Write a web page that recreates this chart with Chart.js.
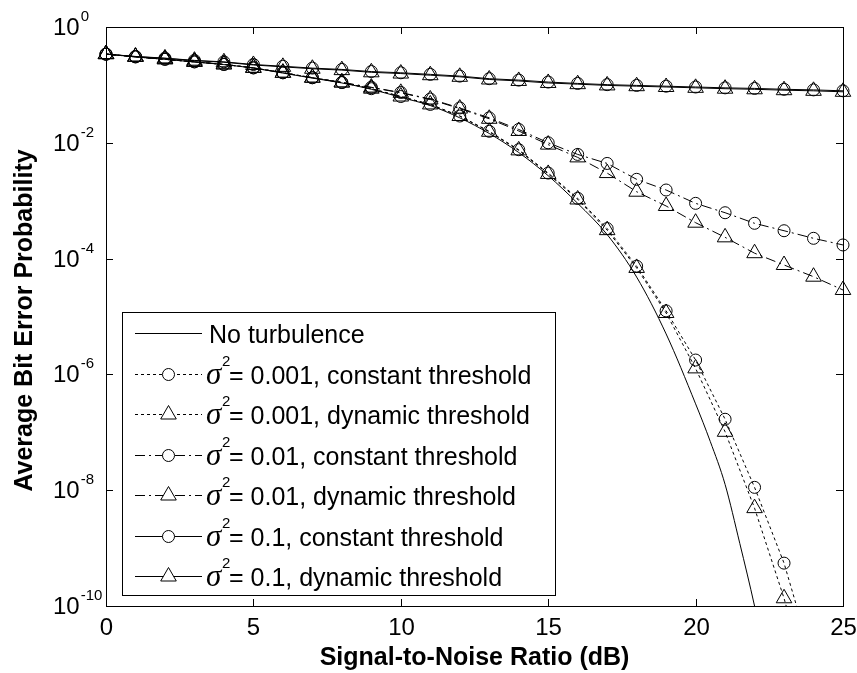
<!DOCTYPE html>
<html>
<head>
<meta charset="utf-8">
<title>Average Bit Error Probability</title>
<style>
html, body { margin: 0; padding: 0; background: #fff; }
canvas { display: block; }
</style>
</head>
<body>
<canvas id="myChart" width="857" height="673"></canvas>
<script src="https://cdn.jsdelivr.net/npm/chart.js"></script>
<script>
// values
var snr = [0, 1, 2, 3, 4, 5, 6, 7, 8, 9, 10, 11, 12, 13, 14, 15, 16, 17, 18, 19, 20, 21, 22, 23, 24, 25];

var noTurbSnr = [0, 1, 2, 3, 4, 5, 6, 7, 8, 9, 10, 11, 12, 13, 14, 15, 16, 17, 18, 19, 20, 20.5, 21, 21.5, 22, 22.5];
var noTurb = [0.34, 0.305, 0.276, 0.249, 0.224, 0.195, 0.16, 0.131, 0.108, 0.084, 0.061, 0.044, 0.027, 0.0145, 0.0068, 0.0027,
              9.0e-4, 2.6e-4, 4.8e-5, 5.0e-6, 3.1e-7, 6.9e-8, 1.26e-8, 1.2e-9, 1.0e-10, 6e-12];

var const001 = [0.34, 0.305, 0.277, 0.25, 0.226, 0.197, 0.162, 0.133, 0.110, 0.086, 0.063, 0.046, 0.029, 0.0158, 0.0076, 0.0030,
                1.1e-3, 3.3e-4, 7.4e-5, 1.25e-5, 1.77e-6, 1.68e-7, 1.12e-8, 5.5e-10, 1.0e-11];
var dyn001 = [0.34, 0.305, 0.277, 0.25, 0.226, 0.197, 0.162, 0.133, 0.110, 0.086, 0.063, 0.046, 0.029, 0.0155, 0.0074, 0.0029,
              1.05e-3, 3.1e-4, 6.9e-5, 1.15e-5, 1.27e-6, 1.02e-7, 4.9e-9, 1.36e-10, 2.0e-12];

var const01 = [0.34, 0.305, 0.277, 0.25, 0.226, 0.197, 0.162, 0.133, 0.110, 0.091, 0.074, 0.057, 0.040, 0.027, 0.017, 0.0100,
               6.3e-3, 4.4e-3, 2.34e-3, 1.53e-3, 9.0e-4, 6.2e-4, 4.07e-4, 3.03e-4, 2.24e-4, 1.72e-4];
var dyn01 = [0.34, 0.305, 0.277, 0.25, 0.226, 0.197, 0.162, 0.133, 0.110, 0.090, 0.073, 0.056, 0.039, 0.026, 0.016, 0.0093,
             5.6e-3, 3.0e-3, 1.43e-3, 8.1e-4, 4.17e-4, 2.33e-4, 1.24e-4, 7.75e-5, 4.87e-5, 2.87e-5];

var const1 = [0.34, 0.31, 0.29, 0.265, 0.25, 0.225, 0.21, 0.195, 0.185, 0.17, 0.162, 0.152, 0.142, 0.128, 0.121, 0.112,
              0.106, 0.101, 0.098, 0.095, 0.092, 0.089, 0.087, 0.084, 0.082, 0.079];
var dyn1 = [0.34, 0.308, 0.287, 0.262, 0.246, 0.221, 0.205, 0.19, 0.18, 0.165, 0.157, 0.147, 0.138, 0.124, 0.117, 0.108,
            0.103, 0.098, 0.095, 0.092, 0.089, 0.086, 0.084, 0.081, 0.079, 0.076];

var xTicks = [0, 5, 10, 15, 20, 25];
var yTickExp = [0, -2, -4, -6, -8, -10];

var legendSigma = ["", "0.001", "0.001", "0.01", "0.01", "0.1", "0.1"];
var legendText = ["No turbulence", ", constant threshold", ", dynamic threshold", ", constant threshold",
                  ", dynamic threshold", ", constant threshold", ", dynamic threshold"];

var DOTTED = [3, 3];
var DASHDOT = [10, 4, 2, 4];

function pairs(xs, ys) {
    return ys.map(function (v, i) { return { x: xs[i], y: v }; });
}

function series(data, dash, marker, r) {
    return {
        data: data,
        borderColor: "#000",
        borderWidth: 1,
        borderDash: dash,
        backgroundColor: "rgba(0,0,0,0)",
        pointStyle: marker,
        pointRadius: r,
        pointBorderWidth: 1,
        pointBorderColor: "#000",
        pointBackgroundColor: "rgba(0,0,0,0)",
        tension: 0,
        clip: { left: 12, right: 12, top: 12, bottom: 0 }
    };
}

var datasets = [
    Object.assign(series(pairs(noTurbSnr, noTurb), [], "circle", 0), { cubicInterpolationMode: "monotone", tension: 0.4 }),
    series(pairs(snr, const001), DOTTED, "circle", 6),
    series(pairs(snr, dyn001), DOTTED, "triangle", 9),
    series(pairs(snr, const01), DASHDOT, "circle", 6),
    series(pairs(snr, dyn01), DASHDOT, "triangle", 9),
    series(pairs(snr, const1), [], "circle", 6),
    series(pairs(snr, dyn1), [], "triangle", 9)
];

var FONT = "'Liberation Sans', Arial, Helvetica, sans-serif";

var frame = {
    id: "frame",
    afterDatasetsDraw: function (chart) {
        var ctx = chart.ctx, a = chart.chartArea;
        var xs = chart.scales.x, ys = chart.scales.y;
        ctx.save();
        ctx.strokeStyle = "#000";
        ctx.fillStyle = "#000";
        ctx.lineWidth = 1;
        ctx.setLineDash([]);
        ctx.strokeRect(a.left + 0.5, a.top + 0.5, a.right - a.left, a.bottom - a.top);

        // x ticks and labels
        ctx.font = "24px " + FONT;
        ctx.textAlign = "center";
        ctx.textBaseline = "alphabetic";
        xTicks.forEach(function (v) {
            var px = Math.round(xs.getPixelForValue(v)) + 0.5;
            ctx.beginPath();
            ctx.moveTo(px, a.bottom); ctx.lineTo(px, a.bottom - 7);
            ctx.moveTo(px, a.top); ctx.lineTo(px, a.top + 7);
            ctx.stroke();
            ctx.fillText(String(v), px, a.bottom + 29);
        });

        // y ticks and labels
        yTickExp.forEach(function (e) {
            var py = Math.round(ys.getPixelForValue(Math.pow(10, e))) + 0.5;
            ctx.beginPath();
            ctx.moveTo(a.left, py); ctx.lineTo(a.left + 7, py);
            ctx.moveTo(a.right, py); ctx.lineTo(a.right - 7, py);
            ctx.stroke();
            ctx.textAlign = "left";
            ctx.font = "24px " + FONT;
            ctx.fillText("10", 53, py + 7);
            var w = ctx.measureText("10").width;
            ctx.font = "15px " + FONT;
            ctx.fillText(String(e), 53 + w + 1, py - 7);
        });

        // axis titles
        ctx.font = "bold 25px " + FONT;
        ctx.textAlign = "center";
        ctx.fillText("Signal-to-Noise Ratio (dB)", (a.left + a.right) / 2, 665);
        ctx.save();
        ctx.translate(32, (a.top + a.bottom) / 2 + 4);
        ctx.rotate(-Math.PI / 2);
        ctx.fillText("Average Bit Error Probability", 0, 0);
        ctx.restore();

        // legend
        var bx = 122, by = 312, bw = 433, bh = 283;
        ctx.fillStyle = "#fff";
        ctx.fillRect(bx, by, bw, bh);
        ctx.strokeRect(bx + 0.5, by + 0.5, bw, bh);
        ctx.fillStyle = "#000";
        ctx.textAlign = "left";
        for (var i = 0; i < legendText.length; i++) {
            var ds = chart.data.datasets[i];
            var y = Math.round(333 + i * 40.5) + 0.5;
            ctx.setLineDash(ds.borderDash);
            ctx.beginPath();
            ctx.moveTo(135, y); ctx.lineTo(202, y);
            ctx.stroke();
            ctx.setLineDash([]);
            if (ds.pointRadius > 0) {
                ctx.fillStyle = "#fff";
                Chart.helpers.drawPoint(ctx, { pointStyle: ds.pointStyle, radius: ds.pointRadius, borderWidth: 1, rotation: 0 }, 168.5, y);
                ctx.fillStyle = "#000";
            }
            if (legendSigma[i] === "") {
                ctx.font = "25px " + FONT;
                ctx.fillText(legendText[i], 209, y + 9);
            } else {
                ctx.font = "italic 31px 'Liberation Serif', 'DejaVu Serif', serif";
                ctx.fillText("\u03c3", 206, y + 9);
                ctx.font = "15px " + FONT;
                ctx.fillText("2", 222, y - 9);
                ctx.font = "25px " + FONT;
                ctx.fillText("= " + legendSigma[i] + legendText[i], 229, y + 9);
            }
        }
        ctx.restore();
    }
};

var ctx = document.getElementById("myChart");
var chart = new Chart(ctx, {
    type: "line",
    data: { datasets: datasets },
    options: {
        responsive: false,
        animation: false,
        devicePixelRatio: 1,
        layout: { padding: { left: 106, right: 14, top: 27, bottom: 67 } },
        scales: {
            x: { type: "linear", min: 0, max: 25, display: false },
            y: { type: "logarithmic", min: 1e-10, max: 1, display: false }
        },
        plugins: {
            legend: { display: false },
            tooltip: { enabled: false }
        }
    },
    plugins: [frame]
});
</script>
</body>
</html>
